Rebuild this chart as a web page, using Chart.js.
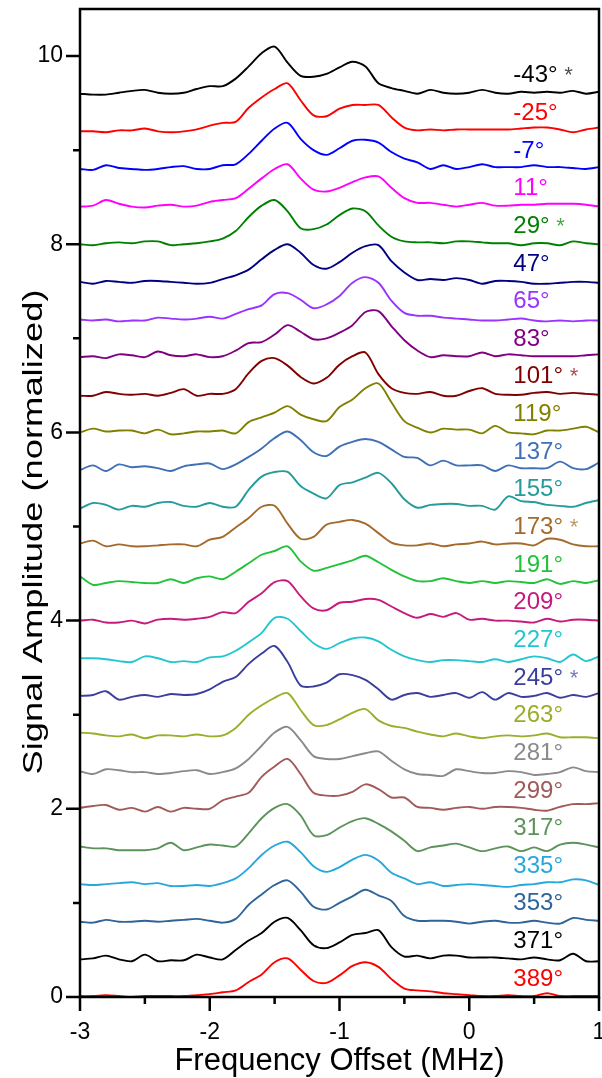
<!DOCTYPE html>
<html>
<head>
<meta charset="utf-8">
<script src="https://cdn.jsdelivr.net/npm/chart.js@4.4.0/dist/chart.umd.min.js"></script>
<style>
  html, body { margin: 0; padding: 0; background: #fff; }
  #wrap { width: 602px; height: 1078px; position: relative; }
</style>
</head>
<body>
<div id="wrap"><canvas id="chart"></canvas></div>
<script>
/* ─── Data ─────────────────────────────────────────────────────── */

// frequency offset axis (MHz)
const X_MHZ = [-3.0, -2.9, -2.8, -2.7, -2.6, -2.5, -2.4, -2.3, -2.2, -2.1,
               -2.0, -1.9, -1.8, -1.7, -1.6, -1.5, -1.4, -1.3, -1.2, -1.1,
               -1.0, -0.9, -0.8, -0.7, -0.6, -0.5, -0.4, -0.3, -0.2, -0.1,
                0.0,  0.1,  0.2,  0.3,  0.4,  0.5,  0.6,  0.7,  0.8,  0.9, 1.0];

const ANGLES  = [-43, -25, -7, 11, 29, 47, 65, 83, 101, 119, 137, 155, 173,
                 191, 209, 227, 245, 263, 281, 299, 317, 335, 353, 371, 389];
const STARRED = [-43, 29, 101, 173, 245];
const OFFSETS = [9.6, 9.2, 8.8, 8.4, 8.0, 7.6, 7.2, 6.8, 6.4, 6.0, 5.6, 5.2, 4.8,
                 4.4, 4.0, 3.6, 3.2, 2.8, 2.4, 2.0, 1.6, 1.2, 0.8, 0.4, 0.0];
const COLORS  = ['#000000', '#ff0000', '#0000ff', '#ff00ff', '#008000', '#000080',
                 '#9933ff', '#800080', '#800000', '#808000', '#3f6fb5', '#269b9b',
                 '#a36a2b', '#22c33a', '#c61a7d', '#22c6d0', '#3b3f9c', '#9cad2a',
                 '#8a8a8a', '#a05a5a', '#5b935b', '#27a8dc', '#2f6499', '#000000', '#ff0000'];

const X_TICKS = [-3, -2.5, -2, -1.5, -1, -0.5, 0, 0.5, 1];
const Y_TICKS = [0, 1, 2, 3, 4, 5, 6, 7, 8, 9, 10];

// amplitude of each trace above its own baseline (normalized)
const T_M43 = [0, -0.01, -0.01, 0.01, 0.03, 0.04, 0.01, 0, 0.01, 0.05, 0.08, 0.08, 0.16, 0.29, 0.43, 0.5, 0.33, 0.19, 0.18, 0.21, 0.28, 0.34, 0.29, 0.11, 0.06, 0.03, 0, 0.04, 0.01, 0, 0.01, 0.04, 0.01, 0, 0.02, 0.01, 0.02, 0.01, 0.03, 0, 0.02];
const T_M25 = [0, 0, -0.01, 0.01, 0.01, 0.03, 0, -0.01, 0, 0.02, 0.06, 0.09, 0.1, 0.25, 0.36, 0.45, 0.51, 0.33, 0.17, 0.16, 0.24, 0.28, 0.28, 0.28, 0.15, 0.04, 0.01, 0.02, 0.01, 0.02, 0.02, 0.02, 0.02, 0.02, 0.03, 0.04, 0.04, 0.02, -0.01, 0.02, 0.04];
const T_M7  = [0, -0.01, 0.04, 0.01, 0, -0.01, 0, 0.02, 0.03, 0, 0, 0.04, 0.05, 0.16, 0.3, 0.43, 0.49, 0.32, 0.2, 0.15, 0.22, 0.3, 0.31, 0.28, 0.18, 0.11, 0.07, 0, 0.04, 0, 0.02, 0.05, 0.02, 0.02, 0.02, 0.04, 0.02, 0.02, 0.01, 0, 0.02];
const T_11  = [0, 0.01, 0.07, 0.03, 0, -0.01, 0.01, 0.02, 0, 0.01, 0.05, 0.07, 0.09, 0.19, 0.3, 0.4, 0.45, 0.3, 0.18, 0.16, 0.2, 0.26, 0.31, 0.32, 0.2, 0.09, 0.04, 0.04, 0.02, 0, 0.02, 0.04, 0.01, 0.01, 0.02, 0.02, 0.03, 0.03, 0.03, 0.02, 0];
const T_29  = [0, -0.01, 0.01, 0.02, 0.01, 0.03, 0.03, -0.01, 0, 0.01, 0.03, 0.06, 0.14, 0.29, 0.41, 0.47, 0.35, 0.17, 0.16, 0.21, 0.31, 0.38, 0.35, 0.2, 0.08, 0.03, 0.02, 0.02, 0.01, 0.03, 0.03, 0.02, 0.01, 0.01, -0.01, 0.01, 0.01, -0.01, 0.03, 0.01, 0];
const T_47  = [0, -0.02, 0.01, 0, -0.01, 0.01, 0.01, 0, -0.01, -0.02, -0.01, 0.03, 0.07, 0.13, 0.24, 0.34, 0.4, 0.31, 0.18, 0.14, 0.21, 0.31, 0.38, 0.39, 0.22, 0.1, 0.02, 0.03, 0.02, 0.04, 0.02, -0.02, 0.01, 0.01, 0, -0.02, -0.02, -0.01, 0, 0, -0.01];
const T_65  = [0, -0.01, 0, -0.02, -0.01, -0.01, 0.02, 0.01, 0, 0.01, 0.03, 0.01, 0.06, 0.11, 0.15, 0.27, 0.28, 0.21, 0.12, 0.16, 0.25, 0.39, 0.45, 0.39, 0.2, 0.07, 0.04, 0.04, 0.02, 0.01, 0, -0.01, -0.01, 0, 0.01, -0.01, -0.02, -0.01, -0.02, -0.01, -0.01];
const T_83  = [0, 0.01, -0.01, 0.03, 0.02, 0, 0.06, 0.02, 0.01, 0.03, 0, 0.01, 0.07, 0.15, 0.16, 0.24, 0.34, 0.27, 0.19, 0.2, 0.26, 0.34, 0.48, 0.49, 0.33, 0.18, 0.07, 0, 0.02, 0.01, 0.01, 0.05, 0.01, 0.03, 0.02, 0.01, 0.01, 0.01, 0.01, 0.02, 0.03];
const T_101 = [-0.01, -0.01, 0.03, 0.01, 0, 0.01, -0.01, 0.02, 0.06, -0.01, 0.01, 0.01, 0.06, 0.23, 0.36, 0.39, 0.31, 0.19, 0.12, 0.18, 0.32, 0.41, 0.45, 0.22, 0.07, 0.02, 0.01, 0.03, -0.01, -0.01, 0.04, 0.07, 0.01, 0, 0, 0.02, 0.03, 0.01, 0.02, 0.01, 0];
const T_119 = [0, 0.04, 0.01, 0.02, 0.02, -0.01, 0.03, -0.02, -0.01, 0.01, 0.01, 0.02, -0.01, 0.11, 0.16, 0.21, 0.28, 0.19, 0.14, 0.12, 0.27, 0.35, 0.47, 0.52, 0.32, 0.12, 0.05, 0, 0.04, 0.03, 0.03, -0.01, 0.07, 0, -0.01, -0.02, 0.02, 0.02, 0.04, 0.06, 0];
const T_137 = [0, 0.05, -0.01, 0.06, 0.03, 0.04, 0.02, -0.01, 0.04, 0.06, 0.07, 0.01, 0.06, 0.14, 0.23, 0.34, 0.41, 0.32, 0.19, 0.15, 0.25, 0.3, 0.33, 0.3, 0.22, 0.14, 0.13, 0.05, 0.1, 0.05, 0.05, 0.05, -0.01, 0.05, 0.02, 0.02, 0.02, 0.09, 0.02, 0.01, 0.08];
const T_155 = [-0.01, 0.05, 0.03, -0.02, 0.02, 0.01, 0.05, 0.06, 0.02, 0.01, 0.05, 0.01, 0.01, 0.19, 0.33, 0.38, 0.38, 0.23, 0.15, 0.1, 0.24, 0.27, 0.32, 0.37, 0.26, 0.09, 0, 0.03, 0.04, 0.04, 0.02, 0.02, -0.02, 0.12, 0.07, 0.06, 0.03, 0.02, 0.01, 0.05, 0.08];
const T_173 = [0.02, 0.05, -0.01, 0.01, -0.01, -0.01, 0, 0.01, 0.01, -0.01, 0.06, 0.09, 0.19, 0.29, 0.41, 0.42, 0.23, 0.07, 0.09, 0.22, 0.25, 0.27, 0.23, 0.13, 0.03, 0, 0, 0.02, -0.01, 0.01, 0.02, 0.04, 0.01, 0.02, 0.02, 0, 0.07, 0.06, 0.01, -0.01, -0.01];
const T_191 = [0.07, -0.02, 0, 0.02, 0.01, 0, 0, 0.04, 0, 0.05, 0.07, 0.04, 0.12, 0.21, 0.3, 0.34, 0.39, 0.23, 0.13, 0.16, 0.2, 0.24, 0.29, 0.22, 0.14, 0.07, 0.02, 0.02, 0.05, 0.02, 0, 0.02, 0, 0.02, 0.01, 0, 0.04, -0.01, 0.02, 0, 0.03];
const T_209 = [0, 0.01, -0.02, -0.02, 0, -0.03, 0.01, 0.02, 0.01, 0.02, 0.04, 0.09, 0.08, 0.2, 0.29, 0.41, 0.42, 0.26, 0.13, 0.11, 0.19, 0.2, 0.23, 0.22, 0.15, 0.08, 0.03, 0.07, 0.04, 0.08, 0.01, 0.02, 0, 0, -0.01, -0.02, 0.02, -0.01, 0.01, 0.01, 0];
const T_227 = [0, 0, -0.01, -0.03, -0.04, 0.02, 0, -0.04, -0.03, -0.04, 0.01, 0.02, 0.08, 0.17, 0.27, 0.43, 0.42, 0.29, 0.16, 0.1, 0.16, 0.21, 0.22, 0.18, 0.09, 0.02, -0.02, -0.04, -0.02, -0.02, -0.03, -0.04, -0.01, -0.04, -0.01, 0.02, 0, -0.04, 0.04, -0.03, 0.02];
const T_245 = [0, 0.01, 0.05, -0.04, -0.01, 0.01, -0.01, 0.02, 0.01, 0.02, 0.07, 0.15, 0.2, 0.34, 0.45, 0.53, 0.36, 0.11, 0.1, 0.14, 0.23, 0.22, 0.17, 0.07, -0.04, 0.01, 0.03, -0.01, 0.01, 0.03, -0.02, 0.04, -0.04, 0.03, -0.01, 0, 0.03, -0.02, 0.01, -0.01, 0.03];
const T_263 = [0.01, 0, -0.02, -0.03, -0.01, -0.05, -0.02, -0.02, -0.03, -0.01, -0.03, -0.02, 0.06, 0.2, 0.3, 0.38, 0.43, 0.25, 0.09, 0.09, 0.15, 0.22, 0.26, 0.14, 0.08, 0.06, 0.02, -0.01, -0.03, 0, -0.03, -0.05, -0.03, -0.02, -0.03, -0.02, 0, -0.04, -0.04, -0.04, -0.05];
const T_281 = [0, -0.03, 0.02, 0.01, -0.01, -0.01, -0.03, -0.02, 0, 0.01, -0.03, -0.01, 0.03, 0.13, 0.27, 0.41, 0.47, 0.33, 0.16, 0.13, 0.13, 0.16, 0.19, 0.21, 0.11, 0.02, -0.03, -0.04, -0.05, 0.02, 0, -0.02, -0.02, 0, -0.01, -0.04, -0.03, -0.01, 0.04, 0, -0.01];
const T_299 = [0.01, 0.03, 0.04, -0.01, 0.01, -0.03, 0.02, -0.03, 0.01, 0, 0, 0.09, 0.13, 0.17, 0.34, 0.45, 0.53, 0.37, 0.17, 0.14, 0.14, 0.18, 0.26, 0.21, 0.12, 0.12, 0.02, 0.01, -0.01, 0.01, 0.02, 0, 0.02, 0.02, 0.01, -0.01, -0.02, 0.02, 0.05, 0.05, 0.06];
const T_317 = [0, -0.02, -0.02, -0.04, -0.04, -0.04, -0.02, 0.04, -0.04, -0.01, 0.02, 0.01, 0, 0.14, 0.3, 0.41, 0.45, 0.33, 0.12, 0.12, 0.2, 0.27, 0.3, 0.24, 0.16, 0.06, -0.05, -0.01, 0.01, 0.03, -0.01, -0.05, -0.02, 0, -0.05, -0.01, -0.05, 0.02, 0.04, 0.02, -0.01];
const T_335 = [0, -0.01, 0, 0.01, 0.02, 0, 0.01, -0.02, -0.02, -0.01, -0.02, 0.01, 0.06, 0.17, 0.31, 0.41, 0.45, 0.34, 0.19, 0.13, 0.18, 0.26, 0.31, 0.25, 0.12, 0.06, 0, 0.02, -0.02, -0.01, 0, -0.01, -0.02, -0.03, -0.01, 0, 0.02, 0.02, 0.05, 0.04, -0.01];
const T_353 = [0, -0.01, 0.02, 0, 0, 0.01, 0, 0.01, 0.02, 0.03, 0.01, -0.01, 0.03, 0.18, 0.29, 0.39, 0.44, 0.32, 0.16, 0.13, 0.2, 0.27, 0.34, 0.28, 0.22, 0.06, 0.01, 0.01, 0.01, 0, -0.02, 0, 0.01, -0.01, -0.01, 0.01, -0.01, -0.02, 0.04, 0.02, 0.01];
const T_371 = [0, 0.01, 0.04, 0, -0.02, 0.05, -0.02, -0.01, -0.01, 0.05, 0.02, 0, 0.1, 0.2, 0.28, 0.4, 0.44, 0.31, 0.15, 0.12, 0.18, 0.26, 0.28, 0.31, 0.13, 0.03, 0.04, 0.01, 0.04, 0.04, 0.02, 0.02, 0.02, 0.01, 0, 0.02, 0, -0.01, 0.06, -0.02, -0.02];
const T_389 = [0.01, 0.01, 0.02, 0.01, 0, 0.01, 0.01, 0.01, 0.01, 0.02, 0.03, 0.05, 0.07, 0.16, 0.24, 0.37, 0.41, 0.29, 0.17, 0.15, 0.23, 0.33, 0.37, 0.32, 0.19, 0.09, 0.07, 0.06, 0.04, 0.03, 0.02, 0.01, 0.01, 0.02, 0.01, 0.01, 0.04, 0.01, 0.01, 0.01, 0.01];

const TRACES = [T_M43, T_M25, T_M7, T_11, T_29, T_47, T_65, T_83, T_101, T_119, T_137, T_155, T_173,
                T_191, T_209, T_227, T_245, T_263, T_281, T_299, T_317, T_335, T_353, T_371, T_389];

/* ─── Drawing ──────────────────────────────────────────────────── */

const FONT = '"Liberation Sans", Arial, sans-serif';

// frame, tick marks, trace labels and axis titles
const decorPlugin = {
  id: 'decor',
  afterDraw(chart) {
    const { ctx, chartArea: a, scales: { x, y } } = chart;
    ctx.save();
    ctx.strokeStyle = '#000';
    ctx.lineWidth = 2.5;
    ctx.strokeRect(a.left, a.top, a.right - a.left, a.bottom - a.top);

    ctx.beginPath();
    X_TICKS.forEach(v => {
      const px = x.getPixelForValue(v);
      ctx.moveTo(px, a.bottom);
      ctx.lineTo(px, a.bottom + (Number.isInteger(v) ? 14 : 7));
    });
    Y_TICKS.forEach(v => {
      const py = y.getPixelForValue(v);
      ctx.moveTo(a.left, py);
      ctx.lineTo(a.left - (v % 2 === 0 ? 14 : 7), py);
    });
    ctx.stroke();

    // angle labels at the right of each trace
    ctx.textAlign = 'left';
    ctx.textBaseline = 'alphabetic';
    ANGLES.forEach((ang, i) => {
      const lx = x.getPixelForValue(0.34);
      const ly = y.getPixelForValue(OFFSETS[i] + 0.12);
      const txt = ang + '°';
      ctx.font = '24px ' + FONT;
      ctx.fillStyle = COLORS[i];
      ctx.fillText(txt, lx, ly);
      if (STARRED.includes(ang)) {
        const w = ctx.measureText(txt + ' ').width;
        ctx.globalAlpha = 0.7;
        ctx.font = '22px ' + FONT;
        ctx.fillText('*', lx + w, ly);
        ctx.globalAlpha = 1;
      }
    });

    // x title
    ctx.fillStyle = '#000';
    ctx.textAlign = 'center';
    ctx.textBaseline = 'middle';
    ctx.font = '31px ' + FONT;
    ctx.fillText('Frequency Offset (MHz)', (a.left + a.right) / 2, 1061);

    // y title, stretched along its length like the source figure
    const yTitle = 'Signal Amplitude (normalized)';
    ctx.font = '27px ' + FONT;
    const stretch = 485 / ctx.measureText(yTitle).width;
    ctx.translate(35, 532);
    ctx.rotate(-Math.PI / 2);
    ctx.scale(stretch, 1);
    ctx.fillText(yTitle, 0, 0);
    ctx.restore();
  }
};

const datasets = TRACES.map((tr, i) => ({
  label: ANGLES[i] + '°',
  data: X_MHZ.map((xv, j) => ({ x: xv, y: tr[j] + OFFSETS[i] })),
  borderColor: COLORS[i],
  backgroundColor: COLORS[i],
  borderWidth: 1.9,
  pointRadius: 0,
  tension: 0.3,
  fill: false,
}));

new Chart(document.getElementById('chart'), {
  type: 'line',
  data: { datasets },
  options: {
    responsive: true, maintainAspectRatio: false,
    animation: false, devicePixelRatio: 1,
    layout: { padding: { left: 0, right: 3, top: 9, bottom: 0 } },
    plugins: { legend: { display: false }, tooltip: { enabled: false } },
    scales: {
      x: {
        type: 'linear', min: -3, max: 1,
        grid: { display: false, drawTicks: false },
        border: { display: false },
        ticks: {
          stepSize: 0.5, autoSkip: false, maxRotation: 0, padding: 22,
          color: '#000', font: { family: FONT, size: 23 },
          callback: v => Number.isInteger(v) ? String(v) : '',
        },
        afterFit: s => { s.height = 81; s.paddingLeft = 0; s.paddingRight = 0; },
      },
      y: {
        type: 'linear', min: 0, max: 10.5,
        grid: { display: false, drawTicks: false },
        border: { display: false },
        ticks: {
          stepSize: 1, autoSkip: false, padding: 17,
          color: '#000', font: { family: FONT, size: 23 },
          callback: v => (Number.isInteger(v) && v % 2 === 0) ? String(v) : '',
        },
        afterFit: s => { s.width = 80; s.paddingTop = 0; s.paddingBottom = 0; },
      },
    },
  },
  plugins: [decorPlugin],
});
</script>
</body>
</html>
